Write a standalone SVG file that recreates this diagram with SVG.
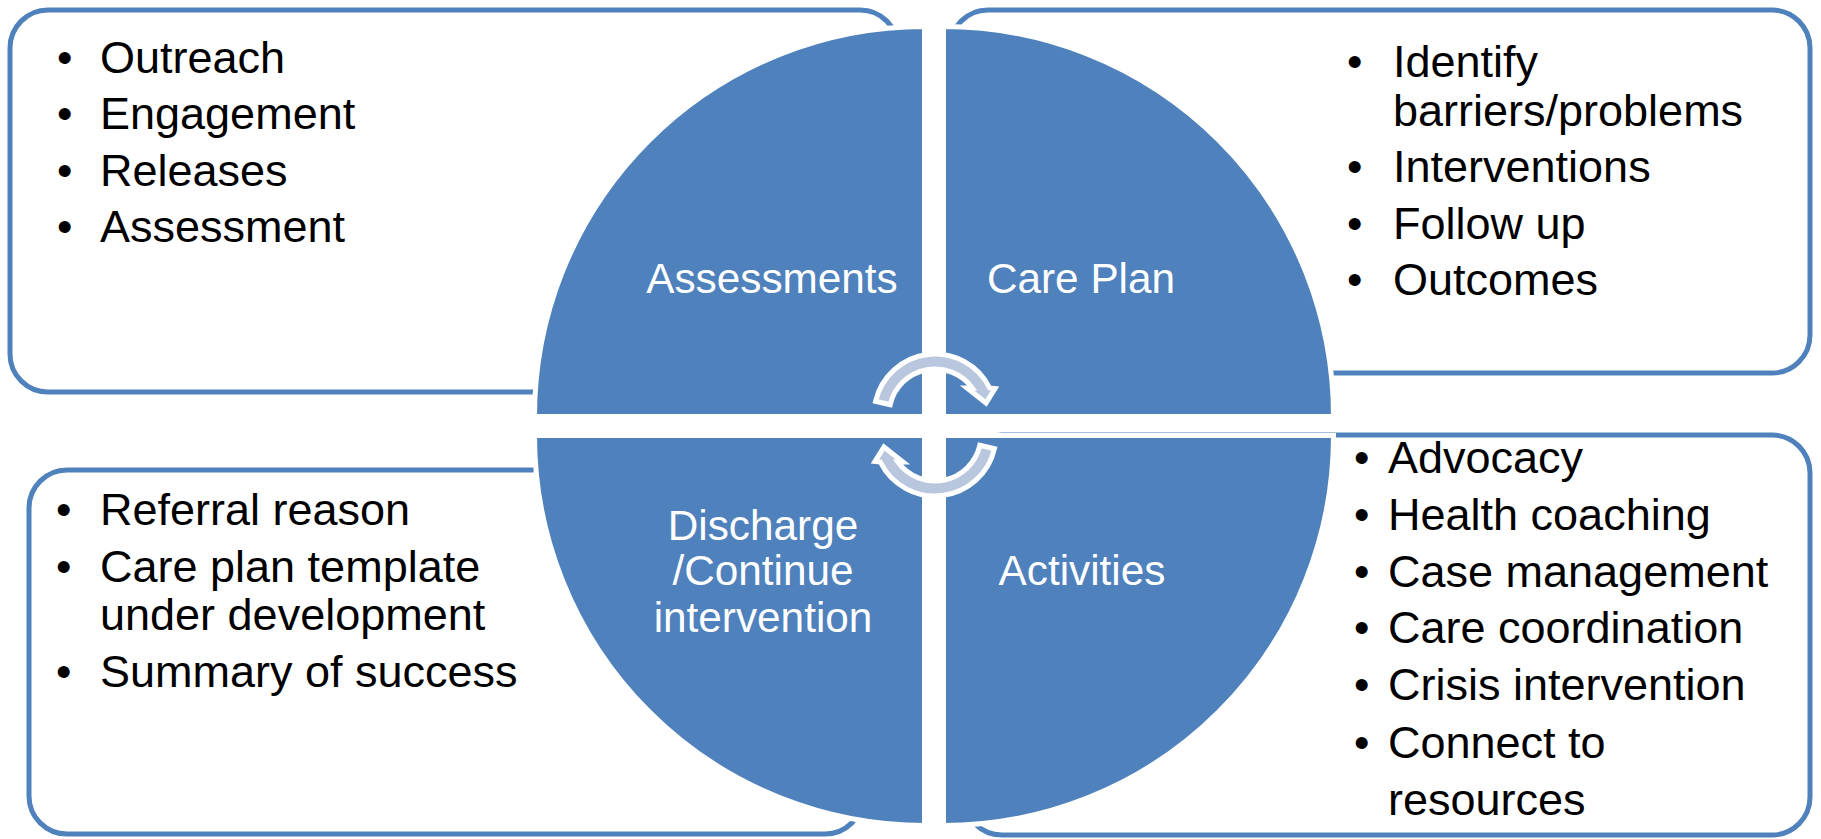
<svg xmlns="http://www.w3.org/2000/svg" width="1821" height="839" viewBox="0 0 1821 839">
<defs>
<style>
.box{fill:#fff;stroke:#4F81BD;stroke-width:5}
.quad{fill:#4F81BD;stroke:#fff;stroke-width:5}
.arr{fill:#B9C7DE;stroke:#fff;stroke-width:5;stroke-linejoin:miter}
.t{font-family:"Liberation Sans",Arial,sans-serif;font-size:45px;fill:#000}
.b{font-family:"Liberation Sans",Arial,sans-serif;font-size:44px;fill:#000}
.lbl{font-family:"Liberation Sans",Arial,sans-serif;font-size:42.3px;fill:#fff;text-anchor:middle}
</style>
<path id="cyc" d="M875.56,401.28 A61,61 0 0 1 989.7,388 L995,388.5 L986,403 L967,388 L972.2,388 A46,46 0 0 0 890.18,404.65 Z"/>
</defs>
<rect width="1821" height="839" fill="#fff"/>
<g id="box-assess">
<rect class="box" x="10" y="10" width="888" height="382" rx="38"/>
<text class="b" x="57" y="72.5">•</text><text class="t" x="100" y="72.5">Outreach</text>
<text class="b" x="57" y="129">•</text><text class="t" x="100" y="129">Engagement</text>
<text class="b" x="57" y="185.5">•</text><text class="t" x="100" y="185.5">Releases</text>
<text class="b" x="57" y="242">•</text><text class="t" x="100" y="242">Assessment</text>
</g>
<g id="box-careplan">
<rect class="box" x="950" y="10" width="860" height="363" rx="38"/>
<text class="b" x="1347" y="76.5">•</text><text class="t" x="1393" y="76.5">Identify</text>
<text class="t" x="1393" y="126">barriers/problems</text>
<text class="b" x="1347" y="182">•</text><text class="t" x="1393" y="182">Interventions</text>
<text class="b" x="1347" y="238.5">•</text><text class="t" x="1393" y="238.5">Follow up</text>
<text class="b" x="1347" y="295">•</text><text class="t" x="1393" y="295">Outcomes</text>
</g>
<g id="box-discharge">
<rect class="box" x="29" y="470" width="834" height="364" rx="38"/>
<text class="b" x="56" y="525">•</text><text class="t" x="100" y="525">Referral reason</text>
<text class="b" x="56" y="581.7">•</text><text class="t" x="100" y="581.7">Care plan template</text>
<text class="t" x="100" y="630">under development</text>
<text class="b" x="56" y="686.7">•</text><text class="t" x="100" y="686.7">Summary of success</text>
</g>
<g id="box-activities">
<rect class="box" x="964" y="435" width="846" height="400" rx="38"/>
<text class="b" x="1354" y="473.3">•</text><text class="t" x="1388" y="473.3">Advocacy</text>
<text class="b" x="1354" y="530">•</text><text class="t" x="1388" y="530">Health coaching</text>
<text class="b" x="1354" y="586.7">•</text><text class="t" x="1388" y="586.7">Case management</text>
<text class="b" x="1354" y="643.3">•</text><text class="t" x="1388" y="643.3">Care coordination</text>
<text class="b" x="1354" y="700">•</text><text class="t" x="1388" y="700">Crisis intervention</text>
<text class="b" x="1354" y="758.3">•</text><text class="t" x="1388" y="758.3">Connect to</text>
<text class="t" x="1388" y="815">resources</text>
</g>
<g id="quad-assessments">
<path class="quad" d="M924.5,416.5 L534.5,416.5 A390,390 0 0 1 924.5,26.5 Z"/>
<text class="lbl" x="772" y="292.5">Assessments</text>
</g>
<g id="quad-careplan">
<path class="quad" d="M943.5,416.5 L943.5,26.5 A390,390 0 0 1 1333.5,416.5 Z"/>
<text class="lbl" x="1081" y="292.5">Care Plan</text>
</g>
<g id="quad-discharge">
<path class="quad" d="M924.5,435.5 L924.5,825.5 A390,390 0 0 1 534.5,435.5 Z"/>
<text class="lbl" x="763" y="539.5">Discharge</text>
<text class="lbl" x="763" y="585">/Continue</text>
<text class="lbl" x="763" y="631.5">intervention</text>
</g>
<g id="quad-activities">
<path class="quad" d="M943.5,435.5 L1333.5,435.5 A390,390 0 0 1 943.5,825.5 Z"/>
<text class="lbl" x="1082" y="585">Activities</text>
</g>
<g id="connectors">
<use href="#cyc" class="arr"/>
<use href="#cyc" class="arr" transform="rotate(180 935 425)"/>
</g>
</svg>
